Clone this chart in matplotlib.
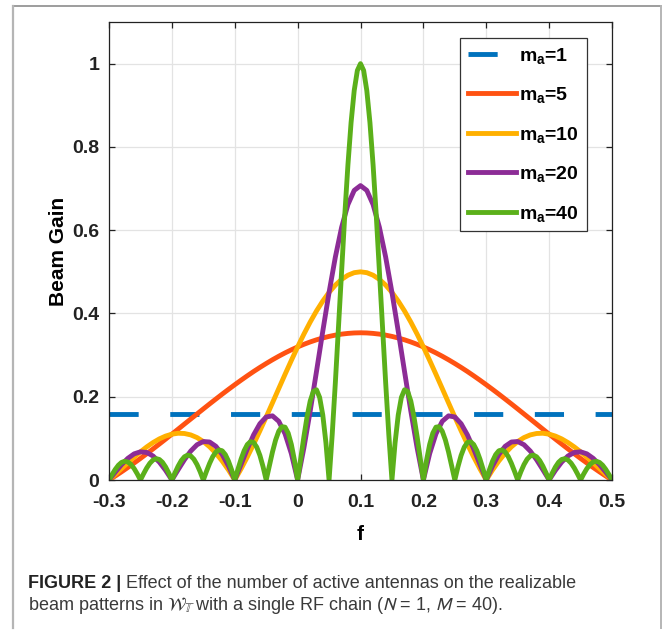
import numpy as np
import matplotlib
matplotlib.use("Agg")
import matplotlib.pyplot as plt
from matplotlib.lines import Line2D

plt.rcParams['font.family'] = ['Liberation Sans', 'DejaVu Sans']
plt.rcParams['axes.unicode_minus'] = False
plt.rcParams['mathtext.fontset'] = 'custom'
plt.rcParams['mathtext.rm'] = 'Liberation Sans:bold'
plt.rcParams['mathtext.it'] = 'Liberation Sans:bold'
plt.rcParams['mathtext.bf'] = 'Liberation Sans:bold'

# f axis samples (coarse for ma=5,10,20 ; fine for ma=40)
f_coarse = np.linspace(-0.3, 0.5, 81)
f_fine = np.linspace(-0.3, 0.5, 161)

ma_labels = ['1', '5', '10', '20', '40']

gain_1_f = [-0.3, 0.5]
gain_1 = [0.158, 0.158]

gain_5 = [0, 0.0096, 0.0197, 0.0301, 0.0408, 0.0518, 0.0631, 0.0746, 0.0863, 0.0981,
          0.1101, 0.1222, 0.1344, 0.1465, 0.1586, 0.1707, 0.1827, 0.1945, 0.2062, 0.2176,
          0.2288, 0.2397, 0.2503, 0.2606, 0.2704, 0.2798, 0.2888, 0.2973, 0.3053, 0.3127,
          0.3196, 0.3259, 0.3316, 0.3367, 0.3411, 0.3449, 0.3480, 0.3504, 0.3521, 0.3532,
          0.3536,
          0.3532, 0.3521, 0.3504, 0.3480, 0.3449, 0.3411, 0.3367, 0.3316, 0.3259, 0.3196,
          0.3127, 0.3053, 0.2973, 0.2888, 0.2798, 0.2704, 0.2606, 0.2503, 0.2397, 0.2288,
          0.2176, 0.2062, 0.1945, 0.1827, 0.1707, 0.1586, 0.1465, 0.1344, 0.1222, 0.1101,
          0.0981, 0.0863, 0.0746, 0.0631, 0.0518, 0.0408, 0.0301, 0.0197, 0.0096, 0]

gain_10 = [0, 0.0136, 0.0275, 0.0413, 0.0548, 0.0677, 0.0795, 0.0899, 0.0987, 0.1055,
           0.1101, 0.1123, 0.1117, 0.1083, 0.1019, 0.0924, 0.0798, 0.0642, 0.0456, 0.0241,
           0, 0.0266, 0.0554, 0.0860, 0.1182, 0.1514, 0.1854, 0.2197, 0.2538, 0.2872,
           0.3196, 0.3505, 0.3794, 0.4060, 0.4298, 0.4506, 0.4681, 0.4819, 0.4919, 0.4980,
           0.5,
           0.4980, 0.4919, 0.4819, 0.4681, 0.4506, 0.4298, 0.4060, 0.3794, 0.3505, 0.3196,
           0.2872, 0.2538, 0.2197, 0.1854, 0.1514, 0.1182, 0.0860, 0.0554, 0.0266, 0,
           0.0241, 0.0456, 0.0642, 0.0798, 0.0924, 0.1019, 0.1083, 0.1117, 0.1123, 0.1101,
           0.1055, 0.0987, 0.0899, 0.0795, 0.0677, 0.0548, 0.0413, 0.0275, 0.0136, 0]

gain_20 = [0, 0.0190, 0.0370, 0.0521, 0.0628, 0.0677, 0.0661, 0.0577, 0.0431, 0.0233,
           0, 0.0248, 0.0488, 0.0695, 0.0847, 0.0924, 0.0913, 0.0809, 0.0613, 0.0337,
           0, 0.0372, 0.0745, 0.1084, 0.1352, 0.1514, 0.1541, 0.1410, 0.1109, 0.0635,
           0, 0.0775, 0.1658, 0.2607, 0.3573, 0.4506, 0.5355, 0.6072, 0.6616, 0.6956,
           0.7071,
           0.6956, 0.6616, 0.6072, 0.5355, 0.4506, 0.3573, 0.2607, 0.1658, 0.0775, 0,
           0.0635, 0.1109, 0.1410, 0.1541, 0.1514, 0.1352, 0.1084, 0.0745, 0.0372, 0,
           0.0337, 0.0613, 0.0809, 0.0913, 0.0924, 0.0847, 0.0695, 0.0488, 0.0248, 0,
           0.0233, 0.0431, 0.0577, 0.0661, 0.0677, 0.0628, 0.0521, 0.0370, 0.0190, 0]

gain_40 = [0, 0.0133, 0.0256, 0.0356, 0.0423, 0.0450, 0.0433, 0.0373, 0.0274, 0.0146,
           0, 0.0150, 0.0289, 0.0403, 0.0480, 0.0512, 0.0494, 0.0426, 0.0314, 0.0168,
           0, 0.0173, 0.0334, 0.0467, 0.0558, 0.0597, 0.0578, 0.0500, 0.0370, 0.0198,
           0, 0.0206, 0.0399, 0.0561, 0.0673, 0.0722, 0.0702, 0.0610, 0.0454, 0.0244,
           0, 0.0256, 0.0500, 0.0706, 0.0852, 0.0921, 0.0901, 0.0789, 0.0591, 0.0320,
           0, 0.0342, 0.0674, 0.0961, 0.1172, 0.1281, 0.1269, 0.1126, 0.0855, 0.0471,
           0, 0.0520, 0.1043, 0.1519, 0.1897, 0.2127, 0.2167, 0.1984, 0.1561, 0.0895,
           0, 0.1094, 0.2340, 0.3681, 0.5047, 0.6368, 0.7570, 0.8585, 0.9355, 0.9836,
           1.0,
           0.9836, 0.9355, 0.8585, 0.7570, 0.6368, 0.5047, 0.3681, 0.2340, 0.1094, 0,
           0.0895, 0.1561, 0.1984, 0.2167, 0.2127, 0.1897, 0.1519, 0.1043, 0.0520, 0,
           0.0471, 0.0855, 0.1126, 0.1269, 0.1281, 0.1172, 0.0961, 0.0674, 0.0342, 0,
           0.0320, 0.0591, 0.0789, 0.0901, 0.0921, 0.0852, 0.0706, 0.0500, 0.0256, 0,
           0.0244, 0.0454, 0.0610, 0.0702, 0.0722, 0.0673, 0.0561, 0.0399, 0.0206, 0,
           0.0198, 0.0370, 0.0500, 0.0578, 0.0597, 0.0558, 0.0467, 0.0334, 0.0173, 0,
           0.0168, 0.0314, 0.0426, 0.0494, 0.0512, 0.0480, 0.0403, 0.0289, 0.0150, 0,
           0.0146, 0.0274, 0.0373, 0.0433, 0.0450, 0.0423, 0.0356, 0.0256, 0.0133, 0]

xticks = [-0.3, -0.2, -0.1, 0, 0.1, 0.2, 0.3, 0.4, 0.5]
xtick_labels = ['-0.3', '-0.2', '-0.1', '0', '0.1', '0.2', '0.3', '0.4', '0.5']
yticks = [0, 0.2, 0.4, 0.6, 0.8, 1]
ytick_labels = ['0', '0.2', '0.4', '0.6', '0.8', '1']

colors = ['#0072BD', '#FF5212', '#FFB000', '#8C2C96', '#5BB01A']

fig = plt.figure(figsize=(6.63, 6.31), dpi=100)
ax = fig.add_axes([0.1644, 0.2393, 0.7587, 0.7258])

lw = 3.5
ax.plot(gain_1_f, gain_1, color=colors[0], lw=lw, dashes=(6, 6.5),
        label='m$_\\mathrm{a}$=' + ma_labels[0])
ax.plot(f_coarse, gain_5, color=colors[1], lw=lw, label='m$_\\mathrm{a}$=' + ma_labels[1])
ax.plot(f_coarse, gain_10, color=colors[2], lw=lw, label='m$_\\mathrm{a}$=' + ma_labels[2])
ax.plot(f_coarse, gain_20, color=colors[3], lw=lw, label='m$_\\mathrm{a}$=' + ma_labels[3])
ax.plot(f_fine, gain_40, color=colors[4], lw=lw, label='m$_\\mathrm{a}$=' + ma_labels[4])

ax.set_xlim(-0.3, 0.5)
ax.set_ylim(0, 1.1)
ax.set_xticks(xticks)
ax.set_xticklabels(xtick_labels)
ax.set_yticks(yticks)
ax.set_yticklabels(ytick_labels)
ax.tick_params(direction='in', length=4, width=0.9, top=True, right=True,
               labelsize=14, colors='#222222')
ax.tick_params(axis='x', pad=10)
ax.tick_params(axis='y', pad=7)
for lab in ax.get_xticklabels() + ax.get_yticklabels():
    lab.set_fontweight('bold')
for s in ax.spines.values():
    s.set_linewidth(0.9)
    s.set_color('#222222')
ax.grid(True, color='#e3e3e3', lw=0.9)
ax.set_axisbelow(True)

ax.set_xlabel('f', fontsize=15, fontweight='bold', labelpad=10)
ax.set_ylabel('Beam Gain', fontsize=15, fontweight='bold', labelpad=3)

leg = ax.legend(loc='upper right', bbox_to_anchor=(0.95, 0.965),
                handlelength=2.5, handletextpad=0.15, labelspacing=1.0,
                borderpad=0.4, borderaxespad=0, fancybox=False, framealpha=1,
                edgecolor='#333333', prop={'weight': 'bold', 'size': 14})
leg.get_frame().set_linewidth(0.9)

# card border around the figure
fig.add_artist(Line2D([12.5 / 663, 661 / 663], [1 - 6 / 631, 1 - 6 / 631],
                      color='#8c8c8c', lw=1.2, transform=fig.transFigure))
fig.add_artist(Line2D([12.5 / 663, 12.5 / 663], [1 - 6 / 631, 1 - 628 / 631],
                      color='#b5b5b5', lw=1.6, transform=fig.transFigure))
fig.add_artist(Line2D([661 / 663, 661 / 663], [1 - 6 / 631, 1 - 628 / 631],
                      color='#b5b5b5', lw=1.4, transform=fig.transFigure))

# caption
cap = ['Liberation Sans', 'DejaVu Sans']
t1 = fig.text(28 / 663, 1 - 583 / 631, 'FIGURE 2 |', fontsize=13, fontweight='bold',
              color='#222222', va='center', family=cap)
ax.annotate(' Effect of the number of active antennas on the realizable',
            xy=(1, 0), xycoords=t1, fontsize=13, color='#3a3a3a', family=cap,
            va='bottom', ha='left', annotation_clip=False)
fig.text(28 / 663, 1 - 606 / 631,
         r'beam patterns in $\mathcal{W}_{\mathbb{T}}$ with a single RF chain ($N$ = 1, $M$ = 40).',
         fontsize=13, color='#3a3a3a', va='center', family=cap, math_fontfamily='stixsans')

fig.savefig('out.png', dpi=100)
